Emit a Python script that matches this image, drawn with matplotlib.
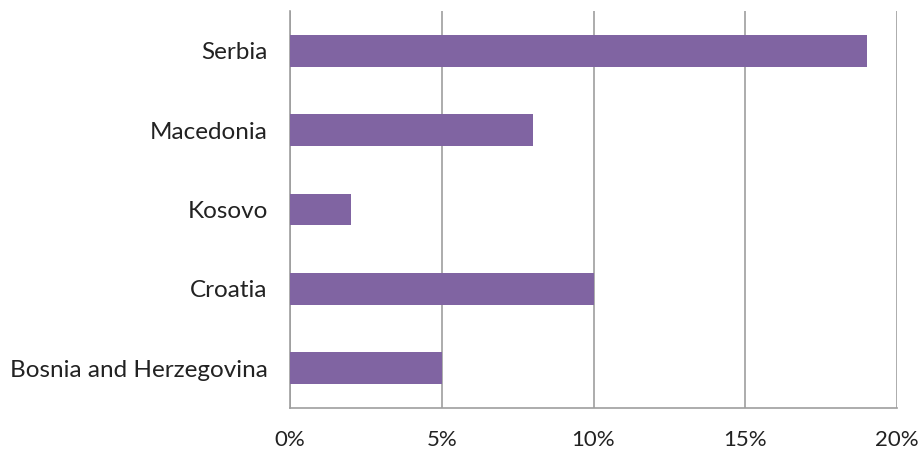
import matplotlib.pyplot as plt
from matplotlib.ticker import FuncFormatter

countries = ["Bosnia and Herzegovina", "Croatia", "Kosovo", "Macedonia", "Serbia"]
shares = [5, 10, 2, 8, 19]
x_ticks = [0, 5, 10, 15, 20]

plt.rcParams['font.family'] = ['Lato', 'DejaVu Sans']

fig = plt.figure(figsize=(9.23, 4.55), dpi=100)
ax = fig.add_axes([290 / 923, 47 / 455, 607 / 923, 397 / 455])

ax.barh(range(len(countries)), shares, height=0.4, color='#8064A2', zorder=3)

ax.set_xlim(0, 20)
ax.set_ylim(-0.5, len(countries) - 0.5)
ax.set_xticks(x_ticks)
ax.xaxis.set_major_formatter(FuncFormatter(lambda v, p: f"{v:.0f}%"))
ax.set_yticks(range(len(countries)))
ax.set_yticklabels(countries)
ax.tick_params(length=0, labelcolor='#222222')
ax.tick_params(axis='x', pad=16, labelsize=16)
ax.tick_params(axis='y', pad=16, labelsize=17.5)

ax.grid(axis='x', color='#9e9e9e', linewidth=1.2, zorder=0)
for side in ['top', 'right']:
    ax.spines[side].set_visible(False)
for side in ['left', 'bottom']:
    ax.spines[side].set_color('#9e9e9e')
    ax.spines[side].set_linewidth(1.2)

fig.savefig("out.png", dpi=100)
